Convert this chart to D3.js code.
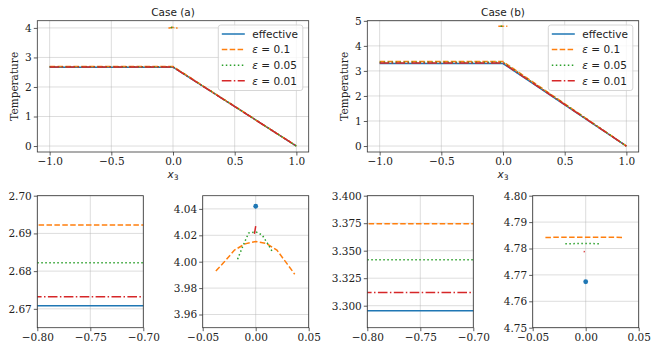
<!DOCTYPE html>
<html>
<head>
<meta charset="utf-8">
<script src="https://cdn.jsdelivr.net/npm/d3@7"></script>
<style>
  body { margin: 0; background: #fff; }
  svg { display: block; }
  .tick text, .ylab { font-family: "DejaVu Serif", serif; }
</style>
</head>
<body>
<script>
// series order: effective, eps=0.1, eps=0.05, eps=0.01
var seriesNames = ["effective", "0.1", "0.05", "0.01"];
var colors = ["#1f77b4", "#ff7f0e", "#2ca02c", "#d62728"];
var dashes = [null, "5.5,2.4", "1.5,2.5", "9.6,2.4,1.5,2.4"];

// plateau temperature on x3 in [-1,0], linear drop to 0 at x3 = 1
var plateauA = [2.6708, 2.6922, 2.6822, 2.6732];
var plateauB = [3.2955, 3.3745, 3.3418, 3.3120];
var profileX = [-1, 0, 1];

// effective value at x3 = 0 (single point)
var peakEffA = [0, 4.042];
var peakEffB = [0, 4.7674];

// local profiles near x3 = 0
var domeA01 = [[-0.0376, 3.993], [-0.03, 3.9995], [-0.02, 4.0088], [-0.01, 4.0135], [0, 4.0153],
               [0.01, 4.0138], [0.02, 4.0088], [0.03, 3.998], [0.0368, 3.9905]];
var domeA005 = [[-0.0171, 4.0019], [-0.012, 4.012], [-0.0067, 4.0217], [0, 4.0227],
                [0.0061, 4.0202], [0.011, 4.014], [0.0156, 4.0077]];
var domeA001 = [[-0.0012, 4.021], [0, 4.027]];
var domeB01 = [[-0.038, 4.7842], [0, 4.7843], [0.0355, 4.7842]];
var domeB005 = [[-0.0192, 4.7818], [0, 4.7819], [0.0142, 4.7818]];
var domeB001 = [[-0.0019, 4.7789], [-0.0009, 4.7788]];

var topXTicks = [-1, -0.5, 0, 0.5, 1];
var topYTicksA = [0, 1, 2, 3, 4];
var topYTicksB = [0, 1, 2, 3, 4, 5];
var zoomLeftX = [-0.8, -0.75, -0.7];
var zoomMidX = [-0.05, 0, 0.05];
var yTicksA1 = [2.67, 2.68, 2.69, 2.70];
var yTicksA2 = [3.96, 3.98, 4.00, 4.02, 4.04];
var yTicksB1 = [3.300, 3.325, 3.350, 3.375, 3.400];
var yTicksB2 = [4.75, 4.76, 4.77, 4.78, 4.79, 4.80];

var svg = d3.select("body").append("svg").attr("width", 659).attr("height", 347);
var defs = svg.append("defs");
var clipId = 0;

function seriesLines(plateau, domes) {
  var out = [];
  plateau.forEach(function(v, i) {
    out.push({i: i, pts: profileX.map(function(x, k) { return [x, k < 2 ? v : 0]; })});
  });
  domes.forEach(function(d, j) { out.push({i: j + 1, pts: d}); });
  return out;
}

function panel(o) {
  var x = d3.scaleLinear().domain(o.xd).range([o.x0, o.x1]);
  var y = d3.scaleLinear().domain(o.yd).range([o.y1, o.y0]);
  var g = svg.append("g");
  var cid = "clip" + (clipId++);
  defs.append("clipPath").attr("id", cid).append("rect")
    .attr("x", o.x0).attr("y", o.y0).attr("width", o.x1 - o.x0).attr("height", o.y1 - o.y0);

  // grid
  g.selectAll("line.gx").data(o.xt).enter().append("line")
    .attr("x1", function(d) { return x(d); }).attr("x2", function(d) { return x(d); })
    .attr("y1", o.y0).attr("y2", o.y1)
    .attr("stroke", "#b0b0b0").attr("stroke-opacity", 0.55).attr("stroke-width", 0.8);
  g.selectAll("line.gy").data(o.yt).enter().append("line")
    .attr("y1", function(d) { return y(d); }).attr("y2", function(d) { return y(d); })
    .attr("x1", o.x0).attr("x2", o.x1)
    .attr("stroke", "#b0b0b0").attr("stroke-opacity", 0.55).attr("stroke-width", 0.8);

  var line = d3.line().x(function(d) { return x(d[0]); }).y(function(d) { return y(d[1]); });
  var plot = g.append("g").attr("clip-path", "url(#" + cid + ")");
  var lines = seriesLines(o.plateau, o.domes);
  [0, 1, 2, 3].forEach(function(si) {
    lines.filter(function(l) { return l.i === si; }).forEach(function(l) {
      plot.append("path").attr("d", line(l.pts))
        .attr("fill", "none").attr("stroke", colors[si]).attr("stroke-width", 1.5)
        .attr("stroke-dasharray", dashes[si]);
    });
    if (si === 0 && o.dot) {
      plot.append("circle").attr("cx", x(o.peak[0])).attr("cy", y(o.peak[1]))
        .attr("r", 2.4).attr("fill", colors[0]);
    }
  });

  // axes
  var xa = g.append("g").attr("transform", "translate(0," + o.y1 + ")")
    .call(d3.axisBottom(x).tickValues(o.xt).tickFormat(d3.format(o.xf))
      .tickSizeOuter(0).tickSize(3.5).tickPadding(2.5));
  var ya = g.append("g").attr("transform", "translate(" + o.x0 + ",0)")
    .call(d3.axisLeft(y).tickValues(o.yt).tickFormat(d3.format(o.yf)).tickSizeOuter(0).tickSize(3.5));
  [xa, ya].forEach(function(a) {
    a.select(".domain").remove();
    a.selectAll(".tick line").attr("stroke", "#333").attr("stroke-width", 0.8);
    a.selectAll(".tick text").attr("font-size", 10.5).attr("fill", "#222");
  });
  ya.selectAll(".tick text").attr("x", -5.5);

  g.append("rect").attr("x", o.x0).attr("y", o.y0)
    .attr("width", o.x1 - o.x0).attr("height", o.y1 - o.y0)
    .attr("fill", "none").attr("stroke", "#333").attr("stroke-width", 0.8);
  return {x: x, y: y, g: g};
}

function legend(g, lx, ly) {
  g.append("rect").attr("x", lx).attr("y", ly).attr("width", 84.5).attr("height", 65.5)
    .attr("rx", 2.5).attr("fill", "#fff").attr("fill-opacity", 0.8)
    .attr("stroke", "#cccccc").attr("stroke-width", 0.8);
  seriesNames.forEach(function(n, i) {
    var yy = ly + 9 + i * 15.6;
    g.append("line").attr("x1", lx + 3.5).attr("x2", lx + 26.5).attr("y1", yy).attr("y2", yy)
      .attr("stroke", colors[i]).attr("stroke-width", 1.5).attr("stroke-dasharray", dashes[i]);
    var t = g.append("text").attr("x", lx + 34).attr("y", yy + 3.7)
      .attr("font-family", "DejaVu Sans, sans-serif").attr("font-size", 10.5).attr("fill", "#222");
    if (i === 0) { t.text(n); }
    else {
      t.append("tspan").attr("font-style", "italic").text("ε");
      t.append("tspan").text(" = " + n);
    }
  });
}

function topPanel(x0, plateau, domes, peak, yt, title) {
  var ext = [0, peak[1]];
  var pad = (ext[1] - ext[0]) * 0.05;
  var p = panel({x0: x0, x1: x0 + 271.4, y0: 20.7, y1: 152, xd: [-1.1, 1.1], yd: [ext[0] - pad, ext[1] + pad],
    xt: topXTicks, yt: yt, xf: ".1f", yf: "d", plateau: plateau, domes: domes, peak: peak, dot: false});
  var cx = x0 + 135.7;
  p.g.append("text").attr("x", cx).attr("y", 15.5).attr("text-anchor", "middle")
    .attr("font-family", "DejaVu Sans, sans-serif").attr("font-size", 10.5).attr("fill", "#222").text(title);
  var xl = p.g.append("text").attr("x", cx).attr("y", 177.5).attr("text-anchor", "middle")
    .attr("font-family", "DejaVu Sans, sans-serif").attr("font-size", 10.5).attr("fill", "#222");
  xl.append("tspan").attr("font-style", "italic").text("x");
  xl.append("tspan").attr("font-size", 7.5).attr("dy", 2).text("3");
  p.g.append("text").attr("class", "ylab").attr("transform", "translate(" + (x0 - 19) + ",86.3) rotate(-90)")
    .attr("text-anchor", "middle").attr("font-size", 10.5).attr("fill", "#222").text("Temperature");
  legend(p.g, x0 + 181, 25);
}

topPanel(37.3, plateauA, [domeA01, domeA005, domeA001], peakEffA, topYTicksA, "Case (a)");
topPanel(367.3, plateauB, [domeB01, domeB005, domeB001], peakEffB, topYTicksB, "Case (b)");

var by0 = 195.7, by1 = 327.7;
panel({x0: 37.3, x1: 143.3, y0: by0, y1: by1, xd: [-0.8, -0.7], yd: [2.665, 2.70],
  xt: zoomLeftX, yt: yTicksA1, xf: ".2f", yf: ".2f", plateau: plateauA, domes: [domeA01, domeA005, domeA001], peak: peakEffA, dot: true});
panel({x0: 202.7, x1: 308.7, y0: by0, y1: by1, xd: [-0.05, 0.05], yd: [3.95, 4.05],
  xt: zoomMidX, yt: yTicksA2, xf: ".2f", yf: ".2f", plateau: plateauA, domes: [domeA01, domeA005, domeA001], peak: peakEffA, dot: true});
panel({x0: 367.3, x1: 473.3, y0: by0, y1: by1, xd: [-0.8, -0.7], yd: [3.28, 3.40],
  xt: zoomLeftX, yt: yTicksB1, xf: ".2f", yf: ".3f", plateau: plateauB, domes: [domeB01, domeB005, domeB001], peak: peakEffB, dot: true});
panel({x0: 532.7, x1: 638.7, y0: by0, y1: by1, xd: [-0.05, 0.05], yd: [4.75, 4.80],
  xt: zoomMidX, yt: yTicksB2, xf: ".2f", yf: ".2f", plateau: plateauB, domes: [domeB01, domeB005, domeB001], peak: peakEffB, dot: true});
</script>
</body>
</html>
